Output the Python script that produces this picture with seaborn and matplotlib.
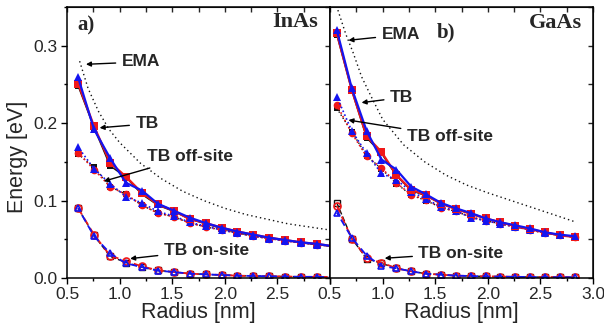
import numpy as np
import pandas as pd
import matplotlib
matplotlib.use("Agg")
import matplotlib.pyplot as plt
import seaborn as sns

# ---------------- data ----------------
R_inas = [0.606, 0.757, 0.909, 1.060, 1.212, 1.363, 1.515, 1.666, 1.818,
          1.969, 2.120, 2.272, 2.423, 2.575, 2.726, 2.878, 3.029]
inas_tb_black = [0.248, 0.194, 0.145, 0.130, 0.108, 0.094, 0.086, 0.076, 0.070,
                 0.064, 0.059, 0.055, 0.052, 0.049, 0.046, 0.043, 0.041]
inas_tb_red = [0.251, 0.196, 0.149, 0.131, 0.110, 0.095, 0.087, 0.076, 0.071,
               0.065, 0.060, 0.056, 0.052, 0.049, 0.046, 0.044, 0.041]
inas_tb_blue = [0.259, 0.192, 0.155, 0.123, 0.113, 0.096, 0.087, 0.078, 0.071,
                0.065, 0.060, 0.056, 0.052, 0.049, 0.046, 0.044, 0.041]
inas_off_black = [0.160, 0.143, 0.118, 0.108, 0.094, 0.084, 0.079, 0.071, 0.066,
                  0.062, 0.058, 0.054, 0.051, 0.048, 0.0455, 0.043, 0.041]
inas_off_red = [0.162, 0.140, 0.118, 0.108, 0.094, 0.084, 0.079, 0.071, 0.066,
                0.062, 0.058, 0.054, 0.051, 0.048, 0.0455, 0.043, 0.041]
inas_off_blue = [0.169, 0.141, 0.122, 0.105, 0.097, 0.086, 0.080, 0.072, 0.067,
                 0.062, 0.058, 0.054, 0.051, 0.048, 0.0455, 0.043, 0.041]
inas_on_black = [0.090, 0.055, 0.028, 0.020, 0.014, 0.010, 0.0077, 0.0056, 0.0047,
                 0.0039, 0.0030, 0.0026, 0.0022, 0.0019, 0.0016, 0.0014, 0.0012]
inas_on_red = [0.090, 0.056, 0.029, 0.022, 0.015, 0.010, 0.0077, 0.0056, 0.0047,
               0.0039, 0.0030, 0.0026, 0.0022, 0.0019, 0.0016, 0.0014, 0.0012]
inas_on_blue = [0.090, 0.054, 0.032, 0.019, 0.014, 0.0095, 0.0077, 0.0056, 0.0047,
                0.0039, 0.0030, 0.0026, 0.0022, 0.0019, 0.0016, 0.0014, 0.0012]
inas_ema_R = [0.62, 0.70, 0.80, 0.90, 1.00, 1.20, 1.40, 1.60, 1.80, 2.00,
              2.20, 2.40, 2.60, 2.80, 3.00]
inas_ema = [0.280, 0.245, 0.215, 0.192, 0.175, 0.148, 0.128, 0.112, 0.100, 0.090,
            0.082, 0.076, 0.070, 0.066, 0.062]

R_gaas = [0.565, 0.707, 0.848, 0.989, 1.131, 1.272, 1.413, 1.555, 1.696,
          1.837, 1.979, 2.120, 2.261, 2.402, 2.544, 2.685, 2.826]
gaas_tb_black = [0.314, 0.242, 0.181, 0.161, 0.132, 0.113, 0.106, 0.096, 0.089,
                 0.083, 0.077, 0.072, 0.067, 0.063, 0.059, 0.055, 0.053]
gaas_tb_red = [0.316, 0.243, 0.183, 0.163, 0.133, 0.114, 0.107, 0.096, 0.089,
               0.083, 0.077, 0.072, 0.067, 0.063, 0.059, 0.055, 0.053]
gaas_tb_blue = [0.320, 0.245, 0.190, 0.153, 0.140, 0.118, 0.108, 0.097, 0.090,
                0.084, 0.077, 0.072, 0.068, 0.064, 0.059, 0.056, 0.054]
gaas_off_black = [0.219, 0.189, 0.158, 0.141, 0.122, 0.107, 0.100, 0.091, 0.086,
                  0.079, 0.074, 0.070, 0.066, 0.062, 0.058, 0.055, 0.053]
gaas_off_red = [0.2235, 0.187, 0.157, 0.142, 0.123, 0.1075, 0.101, 0.091, 0.086,
                0.079, 0.074, 0.070, 0.066, 0.062, 0.058, 0.055, 0.053]
gaas_off_blue = [0.234, 0.190, 0.161, 0.135, 0.127, 0.1115, 0.102, 0.092, 0.087,
                 0.078, 0.074, 0.070, 0.066, 0.0625, 0.0585, 0.055, 0.053]
gaas_on_black = [0.097, 0.051, 0.025, 0.019, 0.0125, 0.0086, 0.0055, 0.0043, 0.0030,
                 0.0026, 0.0020, 0.0018, 0.0015, 0.0013, 0.0011, 0.0010, 0.0009]
gaas_on_red = [0.093, 0.051, 0.026, 0.020, 0.0125, 0.0086, 0.0055, 0.0043, 0.0030,
               0.0026, 0.0020, 0.0018, 0.0015, 0.0013, 0.0011, 0.0010, 0.0009]
gaas_on_blue = [0.0845, 0.052, 0.029, 0.0155, 0.0125, 0.0086, 0.0055, 0.0043, 0.0030,
                0.0026, 0.0020, 0.0018, 0.0015, 0.0013, 0.0011, 0.0010, 0.0009]
gaas_ema_R = [0.575, 0.65, 0.72, 0.80, 0.90, 1.00, 1.20, 1.40, 1.60, 1.80,
              2.00, 2.20, 2.40, 2.60, 2.82]
gaas_ema = [0.346, 0.315, 0.291, 0.260, 0.232, 0.205, 0.172, 0.150, 0.133, 0.120,
            0.110, 0.101, 0.092, 0.083, 0.073]

x_ticks = [0.5, 1.0, 1.5, 2.0, 2.5, 3.0]
x_ticklabels_a = ["0.5", "1.0", "1.5", "2.0", "2.5", ""]
x_ticklabels_b = ["0.5", "1.0", "1.5", "2.0", "2.5", "3.0"]
y_ticks = [0.0, 0.1, 0.2, 0.3]
y_ticklabels = ["0.0", "0.1", "0.2", "0.3"]

# ---------------- style ----------------
sns.set_style("ticks")
plt.rcParams["font.family"] = ["Liberation Sans", "DejaVu Sans"]

RED = "#f01818"
BLUE = "#1414f0"
BLACK = "#111111"

fig = plt.figure(figsize=(6.04, 3.29), dpi=100)
axA = fig.add_axes([67 / 604, 51 / 329, 263 / 604, 271 / 329])
axB = fig.add_axes([330 / 604, 51 / 329, 263 / 604, 271 / 329])


def draw(ax, R, tb, off, on, ema_R, ema):
    tb_k, tb_r, tb_b = tb
    off_k, off_r, off_b = off
    on_k, on_r, on_b = on
    # EMA
    sns.lineplot(x=ema_R, y=ema, ax=ax, color=BLACK, lw=1.0,
                 linestyle=(0, (1, 2.2)), sort=True, estimator=None)
    # on-site (dashed, open markers)
    sns.lineplot(x=R, y=on_k, ax=ax, color=BLACK, lw=1.0, linestyle="--",
                 marker="s", markersize=4.5, markerfacecolor="none",
                 markeredgecolor=BLACK, markeredgewidth=1.0, estimator=None)
    sns.lineplot(x=R, y=on_r, ax=ax, color=RED, lw=1.3, linestyle=(0, (4, 2.5)),
                 marker="o", markersize=5, markerfacecolor="none",
                 markeredgecolor=RED, markeredgewidth=1.2, estimator=None)
    sns.lineplot(x=R, y=on_b, ax=ax, color=BLUE, lw=1.3, linestyle=(2, (4, 2.5)),
                 marker="^", markersize=5, markerfacecolor="none",
                 markeredgecolor=BLUE, markeredgewidth=1.2, estimator=None)
    # off-site (dotted, filled markers)
    sns.lineplot(x=R, y=off_k, ax=ax, color=BLACK, lw=1.0, linestyle=":",
                 marker="s", markersize=5, markeredgewidth=0, estimator=None)
    sns.lineplot(x=R, y=off_r, ax=ax, color=RED, lw=1.2, linestyle=(0, (1, 1.5)),
                 marker="o", markersize=5.5, markeredgewidth=0, estimator=None)
    sns.lineplot(x=R, y=off_b, ax=ax, color=BLUE, lw=1.2, linestyle=(1, (1, 1.5)),
                 marker="^", markersize=6, markeredgewidth=0, estimator=None)
    # TB (solid)
    sns.lineplot(x=R, y=tb_k, ax=ax, color=BLACK, lw=1.0, linestyle="-",
                 marker="s", markersize=5, markeredgewidth=0, estimator=None)
    sns.lineplot(x=R, y=tb_r, ax=ax, color=RED, lw=1.6, linestyle="-",
                 marker="s", markersize=5.5, markeredgewidth=0, estimator=None)
    sns.lineplot(x=R, y=tb_b, ax=ax, color=BLUE, lw=1.6, linestyle="-",
                 marker="^", markersize=6, markeredgewidth=0, estimator=None)


draw(axA, R_inas, (inas_tb_black, inas_tb_red, inas_tb_blue),
     (inas_off_black, inas_off_red, inas_off_blue),
     (inas_on_black, inas_on_red, inas_on_blue), inas_ema_R, inas_ema)
draw(axB, R_gaas, (gaas_tb_black, gaas_tb_red, gaas_tb_blue),
     (gaas_off_black, gaas_off_red, gaas_off_blue),
     (gaas_on_black, gaas_on_red, gaas_on_blue), gaas_ema_R, gaas_ema)

for ax, xlabs in ((axA, x_ticklabels_a), (axB, x_ticklabels_b)):
    ax.set_xlim(0.5, 3.0)
    ax.set_ylim(0.0, 0.35)
    ax.set_xticks(x_ticks)
    ax.set_xticklabels(xlabs)
    ax.set_xticks(np.arange(0.75, 3.0, 0.5), minor=True)
    ax.set_yticks(y_ticks)
    ax.set_yticks([0.05, 0.15, 0.25, 0.35], minor=True)
    ax.tick_params(which="major", direction="out", length=4.5, width=1,
                   labelsize=12.5, color="black", pad=2)
    ax.tick_params(which="minor", direction="out", length=2.5, width=1, color="black")
    for s in ax.spines.values():
        s.set_visible(True)
        s.set_linewidth(1.1)
        s.set_color("black")
    ax.set_xlabel("Radius [nm]", fontsize=15.5, labelpad=0)
    # inward ticks on top and right
    top = ax.secondary_xaxis("top")
    top.set_xticks(x_ticks)
    top.set_xticks(np.arange(0.75, 3.0, 0.5), minor=True)
    top.tick_params(which="both", direction="in", labeltop=False, length=3.5, width=1)
    right = ax.secondary_yaxis("right")
    right.set_yticks(y_ticks)
    right.set_yticks([0.05, 0.15, 0.25, 0.35], minor=True)
    right.tick_params(which="both", direction="in", labelright=False, length=3.5, width=1)

axA.set_yticklabels(y_ticklabels)
axA.set_ylabel("Energy [eV]", fontsize=15.5)
axA.yaxis.set_label_coords(-0.148, 0.446)
axB.set_yticklabels([])
axB.set_ylabel("")
axB.tick_params(axis="y", which="both", left=False)

serif = ["Liberation Serif", "DejaVu Serif"]
axA.text(0.038, 0.93, "a)", transform=axA.transAxes, fontsize=15, fontweight="bold",
         family=serif, ha="left", va="center")
axA.text(0.955, 0.944, "InAs", transform=axA.transAxes, fontsize=16, fontweight="bold",
         family=serif, ha="right", va="center")
axB.text(0.405, 0.905, "b)", transform=axB.transAxes, fontsize=15, fontweight="bold",
         family=serif, ha="left", va="center")
axB.text(0.958, 0.941, "GaAs", transform=axB.transAxes, fontsize=16, fontweight="bold",
         family=serif, ha="right", va="center")

arrow = dict(arrowstyle="-|>", color="black", lw=1.0, mutation_scale=7,
             shrinkA=2, shrinkB=0)


def label(ax, text, xy, xytext):
    ax.annotate(text, xy=xy, xytext=xytext, fontsize=12.5, fontweight="bold",
                ha="left", va="center", arrowprops=arrow)


label(axA, "EMA", (0.68, 0.276), (1.02, 0.279))
label(axA, "TB", (0.81, 0.194), (1.15, 0.199))
label(axA, "TB off-site", (0.85, 0.125), (1.26, 0.157))
label(axA, "TB on-site", (1.10, 0.025), (1.42, 0.036))

label(axB, "EMA", (0.675, 0.307), (0.99, 0.314))
label(axB, "TB", (0.80, 0.2265), (1.07, 0.233))
label(axB, "TB off-site", (0.675, 0.204), (1.23, 0.183))
label(axB, "TB on-site", (1.02, 0.0255), (1.34, 0.032))

fig.savefig("out.png", dpi=100)
